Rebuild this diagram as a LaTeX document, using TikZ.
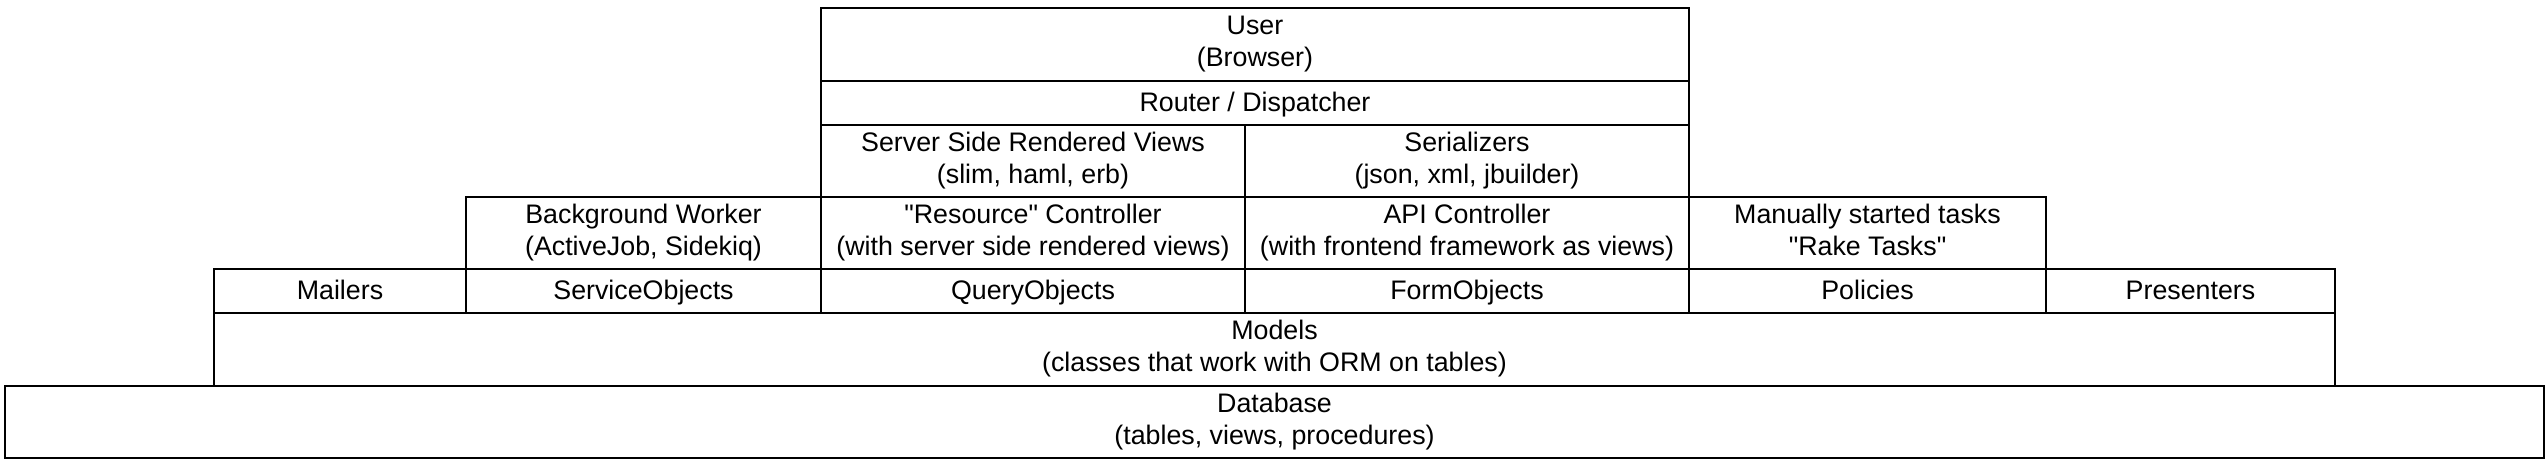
\documentclass[tikz,border=0pt]{standalone}
\usepackage{fontspec}
\setmainfont{Liberation Sans}[Ligatures=TeXOff]
\usetikzlibrary{positioning}

\begin{document}
\begin{tikzpicture}[x=1pt, y=-1pt,
    layer/.style = {draw, rectangle, line width=2pt, align=center, inner sep=0pt,
                    anchor=north west, font=\fontsize{26.8pt}{32pt}\selectfont,
                    execute at begin node=\rule{0pt}{23pt},
                    execute at end node=\rule[-7pt]{0pt}{7pt}}]
  \useasboundingbox (0,0) rectangle (2548,464);
  % top
  \node[layer, minimum width=868pt, minimum height=73pt] (user) at (820,7) {User\\(Browser)};
  \node[layer, minimum width=868pt, minimum height=44pt] (router) at (820,80) {Router / Dispatcher};
  % views
  \node[layer, minimum width=424pt, minimum height=72pt] (views) at (820,124) {Server Side Rendered Views\\(slim, haml, erb)};
  \node[layer, minimum width=444pt, minimum height=72pt] (serial) at (1244,124) {Serializers\\(json, xml, jbuilder)};
  % controllers
  \node[layer, minimum width=355pt, minimum height=72pt] (worker) at (465,196) {Background Worker\\(ActiveJob, Sidekiq)};
  \node[layer, minimum width=424pt, minimum height=72pt] (resctrl) at (820,196) {"Resource" Controller\\(with server side rendered views)};
  \node[layer, minimum width=444pt, minimum height=72pt] (apictrl) at (1244,196) {API Controller\\(with frontend framework as views)};
  \node[layer, minimum width=357pt, minimum height=72pt] (rake) at (1688,196) {Manually started tasks\\"Rake Tasks"};
  % objects
  \node[layer, minimum width=252pt, minimum height=44pt] (mailers) at (213,268) {Mailers};
  \node[layer, minimum width=355pt, minimum height=44pt] (service) at (465,268) {ServiceObjects};
  \node[layer, minimum width=424pt, minimum height=44pt] (query) at (820,268) {QueryObjects};
  \node[layer, minimum width=444pt, minimum height=44pt] (form) at (1244,268) {FormObjects};
  \node[layer, minimum width=357pt, minimum height=44pt] (policies) at (1688,268) {Policies};
  \node[layer, minimum width=289pt, minimum height=44pt] (presenters) at (2045,268) {Presenters};
  % bottom
  \node[layer, minimum width=2121pt, minimum height=73pt] (models) at (213,312) {Models\\(classes that work with ORM on tables)};
  \node[layer, minimum width=2539pt, minimum height=72pt] (db) at (4,385) {Database\\(tables, views, procedures)};
\end{tikzpicture}
\end{document}
